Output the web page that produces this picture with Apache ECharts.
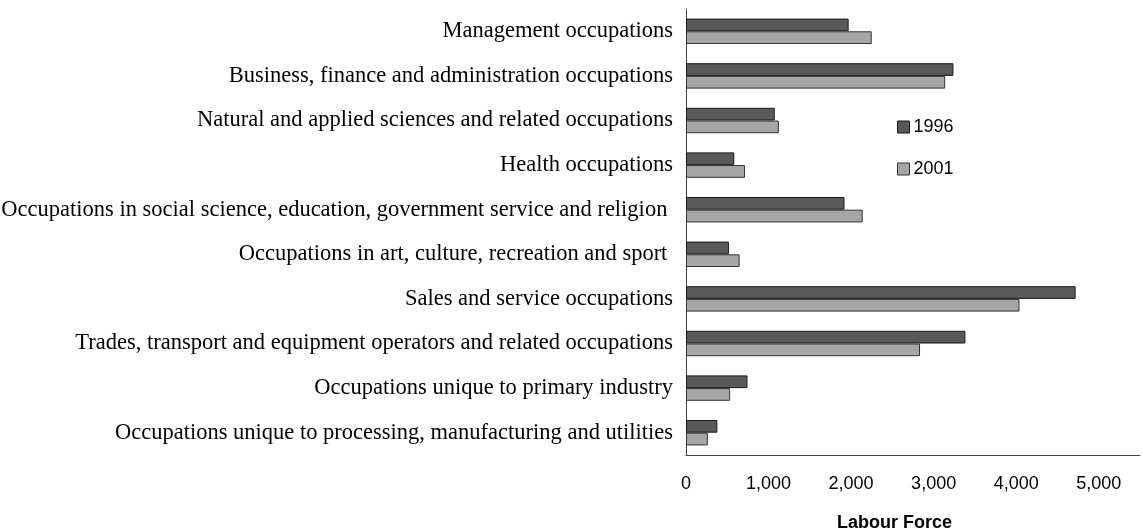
<!DOCTYPE html>
<html>
<head>
<meta charset="utf-8">
<script src="https://cdn.jsdelivr.net/npm/echarts@6/dist/echarts.min.js"></script>
<style>
  html, body { margin: 0; padding: 0; background: #fff; }
  #main { width: 1143px; height: 531px; }
</style>
</head>
<body>
<div id="main"></div>
<script>
var categories = [
	"Management occupations",
	"Business, finance and administration occupations",
	"Natural and applied sciences and related occupations",
	"Health occupations",
	"Occupations in social science, education, government service and religion ",
	"Occupations in art, culture, recreation and sport ",
	"Sales and service occupations",
	"Trades, transport and equipment operators and related occupations",
	"Occupations unique to primary industry",
	"Occupations unique to processing, manufacturing and utilities"
];
var values1996 = [1970, 3240, 1075, 585, 1920, 520, 4720, 3385, 745, 380];
var values2001 = [2250, 3140, 1125, 715, 2140, 650, 4040, 2835, 535, 265];
var xTicks = [0, 1000, 2000, 3000, 4000, 5000];

var myChart = echarts.init(document.getElementById("main"));

var option = {
	animation: false,
	backgroundColor: '#fff',
	title: {
		text: 'Labour Force',
		left: 837,
		top: 514,
		padding: 0,
		textStyle: {
			fontFamily: 'Liberation Sans',
			fontSize: 18,
			fontWeight: 'bold',
			color: '#000'
		}
	},
	legend: {
		orient: 'vertical',
		left: 897,
		top: 118,
		padding: 0,
		itemWidth: 12,
		itemHeight: 12,
		itemGap: 24,
		itemStyle: { borderWidth: 1 },
		icon: 'rect',
		data: ['1996', '2001'],
		textStyle: {
			fontFamily: 'Liberation Sans',
			fontSize: 18,
			color: '#000',
			padding: [0, 0, 0, -1]
		}
	},
	grid: {
		left: 686,
		right: 3,
		top: 9,
		bottom: 76,
		containLabel: false,
		outerBoundsMode: 'none'
	},
	xAxis: {
		type: 'value',
		min: 0,
		max: 5500,
		interval: 1000,
		axisLine: { show: true, lineStyle: { color: '#444', width: 1 } },
		axisTick: { show: false },
		splitLine: { show: false },
		axisLabel: {
			showMaxLabel: false,
			margin: 20,
			fontFamily: 'Liberation Sans',
			fontSize: 18,
			color: '#000',
			formatter: function (v) {
				if (xTicks.indexOf(v) < 0) return '';
				return v.toLocaleString('en-US');
			}
		}
	},
	yAxis: {
		type: 'category',
		inverse: true,
		data: categories,
		axisLine: { show: true, lineStyle: { color: '#444', width: 1 } },
		axisTick: { show: false },
		axisLabel: {
			margin: 13,
			fontFamily: 'Liberation Serif',
			fontSize: 22.5,
			color: '#000',
			padding: [0, 0, 6, 0]
		}
	},
	series: [
		{
			name: '1996',
			type: 'bar',
			data: values1996,
			barGap: '0%',
			barCategoryGap: '43%',
			itemStyle: { color: '#595959', borderColor: '#1a1a1a', borderWidth: 1 }
		},
		{
			name: '2001',
			type: 'bar',
			data: values2001,
			itemStyle: { color: '#a6a6a6', borderColor: '#333', borderWidth: 1 }
		}
	]
};

myChart.setOption(option);
</script>
</body>
</html>
